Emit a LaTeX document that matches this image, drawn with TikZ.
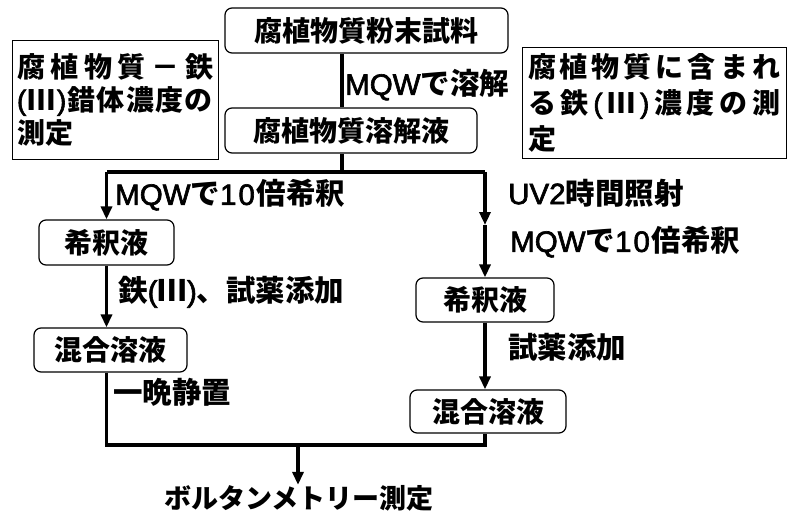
\documentclass[tikz,border=0pt]{standalone}
\usepackage{fontspec}
\setmainfont{Noto Sans CJK JP}
\newfontfamily\latfont{Liberation Sans}[UprightFeatures={FakeBold=2.2}]
\newcommand\ltn[1]{{\latfont\mdseries #1}}
\usetikzlibrary{arrows.meta,calc}
\tikzset{
  every node/.style={font=\bfseries\fontsize{28}{33}\selectfont, inner sep=0pt},
  procbox/.style={draw, line width=1.2pt, rounded corners=7pt},
  notebox/.style={draw, line width=0.9pt, align=left},
  conn/.style={line width=3.6pt},
  arr/.style={-{Triangle[length=13pt,width=11pt]}},
  lbl/.style={anchor=west, font=\bfseries\fontsize{29.5}{33}\selectfont},
}
\begin{document}
\begin{tikzpicture}[x=1pt,y=-1pt]
\useasboundingbox (0,0) rectangle (792,511);
% process boxes
\node[procbox, minimum width=283pt, minimum height=45pt] (t) at (366.5,30.5) {腐植物質粉末試料};
\node[procbox, minimum width=252pt, minimum height=45pt] (s) at (351,130.5) {腐植物質溶解液};
\node[procbox, minimum width=135pt, minimum height=45pt] (l1) at (106.5,242.5) {希釈液};
\node[procbox, minimum width=153pt, minimum height=44pt] (l2) at (110.5,350) {混合溶液};
\node[procbox, minimum width=138pt, minimum height=44pt] (r1) at (485,300) {希釈液};
\node[procbox, minimum width=156pt, minimum height=43pt] (r2) at (488,411.5) {混合溶液};
% note boxes
\node[notebox, minimum width=206pt, minimum height=119pt, text width=196pt] (nl) at (115,99.5)
  {腐\hfill 植\hfill 物\hfill 質\hfill －\hfill 鉄\\\ltn{(}\hfill Ⅲ\hfill \ltn{)}\hfill 錯\hfill 体\hfill 濃\hfill 度\hfill の\\測定};
\node[notebox, font=\bfseries\fontsize{28}{36}\selectfont, minimum width=264pt, minimum height=111pt, text width=252pt] (nr) at (654,102.5)
  {腐\hfill 植\hfill 物\hfill 質\hfill に\hfill 含\hfill ま\hfill れ\\る\hfill 鉄\hfill \ltn{(}\hfill Ⅲ\hfill \ltn{)}\hfill 濃\hfill 度\hfill の\hfill 測\\定};
% final
\node[font=\bfseries\fontsize{27}{33}\selectfont] (f) at (299,498) {ボルタンメトリー測定};
% junction coordinates
\coordinate (j) at (342,172);
\coordinate (rm) at (485,225);
\coordinate (b) at (298,445);
% connectors
\draw[conn] (j |- t.south) -- (j |- s.north);
\draw[conn] (j |- s.south) -- (j);
\draw[conn] (j) -- (l1.north |- j);
\draw[conn,arr] (l1.north |- j) -- (l1.north);
\draw[conn,arr] (l1.south) -- (l1.south |- l2.north);
\draw[conn] (j) -- (rm |- j);
\draw[conn,arr] (rm |- j) -- (rm);
\draw[conn,arr] (rm) -- (rm |- r1.north);
\draw[conn,arr] (r1.south) -- (r1.south |- r2.north);
\draw[conn] (l1.south |- l2.south) -- (l1.south |- b) -- (rm |- b) -- (rm |- r2.south);
\draw[conn,arr] (b) -- (b |- f.north);
% labels
\node[lbl] (a1) at (345,85) {\ltn{MQW}で溶解};
\node[lbl] (a2) at (115,195) {\ltn{MQW}で\ltn{1\kern2pt 0}\kern2pt 倍希釈};
\node[lbl] (a3) at (118,292) {鉄\ltn{(}Ⅲ\ltn{)}、試薬添加};
\node[lbl] (a4) at (113,392) {一晩静置};
\node[lbl] (a5) at (508,193) {\ltn{UV2}時間照射};
\node[lbl] (a6) at (510,242) {\ltn{MQW}で\ltn{1\kern2pt 0}\kern2pt 倍希釈};
\node[lbl] (a7) at (508,347) {試薬添加};
\end{tikzpicture}
\end{document}
